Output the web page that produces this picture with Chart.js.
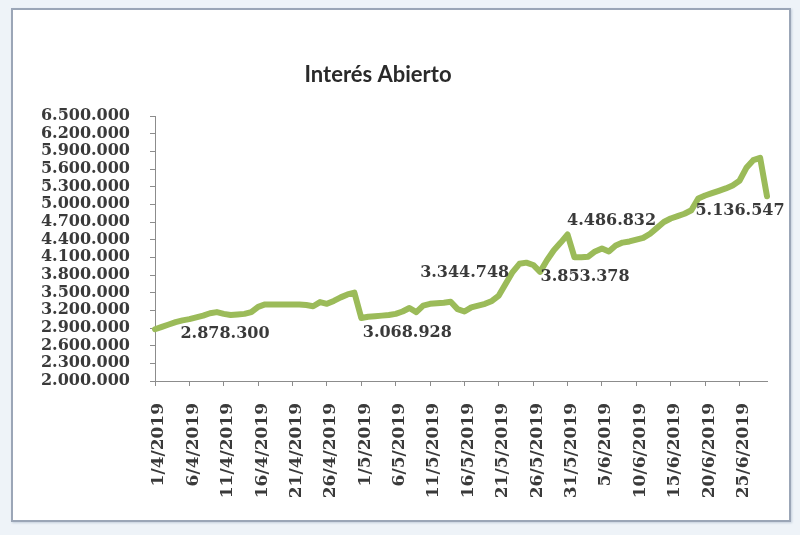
<!DOCTYPE html>
<html>
<head>
<meta charset="utf-8">
<script src="https://cdn.jsdelivr.net/npm/chart.js@4/dist/chart.umd.min.js"></script>
<style>
  html,body{margin:0;padding:0;background:#eef3f8;width:800px;height:535px;overflow:hidden;}
  #frame{position:absolute;left:11px;top:8px;width:776px;height:510px;background:#fff;border:2px solid #9ba6b7;box-shadow:1px 1px 2px #c5cfdc;}
  #c{position:absolute;left:0;top:0;}
</style>
</head>
<body>
<div id="frame"></div>
<canvas id="c" width="800" height="535"></canvas>
<script>
const chartTitle = "Interés Abierto";
const dates = [
 "1/4/2019","2/4/2019","3/4/2019","4/4/2019","5/4/2019","6/4/2019","7/4/2019","8/4/2019","9/4/2019","10/4/2019",
 "11/4/2019","12/4/2019","13/4/2019","14/4/2019","15/4/2019","16/4/2019","17/4/2019","18/4/2019","19/4/2019","20/4/2019",
 "21/4/2019","22/4/2019","23/4/2019","24/4/2019","25/4/2019","26/4/2019","27/4/2019","28/4/2019","29/4/2019","30/4/2019",
 "1/5/2019","2/5/2019","3/5/2019","4/5/2019","5/5/2019","6/5/2019","7/5/2019","8/5/2019","9/5/2019","10/5/2019",
 "11/5/2019","12/5/2019","13/5/2019","14/5/2019","15/5/2019","16/5/2019","17/5/2019","18/5/2019","19/5/2019","20/5/2019",
 "21/5/2019","22/5/2019","23/5/2019","24/5/2019","25/5/2019","26/5/2019","27/5/2019","28/5/2019","29/5/2019","30/5/2019",
 "31/5/2019","1/6/2019","2/6/2019","3/6/2019","4/6/2019","5/6/2019","6/6/2019","7/6/2019","8/6/2019","9/6/2019",
 "10/6/2019","11/6/2019","12/6/2019","13/6/2019","14/6/2019","15/6/2019","16/6/2019","17/6/2019","18/6/2019","19/6/2019",
 "20/6/2019","21/6/2019","22/6/2019","23/6/2019","24/6/2019","25/6/2019","26/6/2019","27/6/2019","28/6/2019","29/6/2019"
];
const openInterest = [
 2878300,2920000,2960000,3000000,3030000,3050000,3080000,3110000,3150000,3170000,
 3140000,3120000,3130000,3140000,3170000,3260000,3300000,3300000,3300000,3300000,
 3300000,3300000,3290000,3270000,3340000,3310000,3360000,3420000,3470000,3500000,
 3068928,3090000,3100000,3110000,3120000,3140000,3180000,3240000,3170000,3280000,
 3310000,3320000,3330000,3344748,3220000,3180000,3250000,3280000,3310000,3360000,
 3450000,3650000,3850000,3990000,4010000,3970000,3853378,4050000,4220000,4350000,
 4486832,4100000,4100000,4110000,4200000,4250000,4200000,4300000,4350000,4370000,
 4400000,4430000,4500000,4600000,4700000,4760000,4800000,4840000,4900000,5100000,
 5150000,5190000,5230000,5270000,5320000,5400000,5620000,5750000,5790000,5136547
];
const yMin = 2000000, yMax = 6500000, yStep = 300000;
const labelledPoints = [0, 30, 43, 56, 60, 89];
const labelOffsets = [[70,5],[46,15],[14,-29],[45,5],[44,-14],[-27,15]];

const fmt = v => Math.round(v).toString().replace(/\B(?=(\d{3})+(?!\d))/g, ".");
const textColor = "#3a3a3a";
const axisColor = "#8c8c8c";
const serif = "'DejaVu Serif', serif";

const titlePlugin = {
  id: "titleText",
  afterDraw(chart) {
    const ctx = chart.ctx;
    ctx.save();
    ctx.font = "bold 22px Lato, sans-serif";
    ctx.fillStyle = "#2a2a2a";
    ctx.textAlign = "center";
    ctx.textBaseline = "middle";
    ctx.fillText(chartTitle, 378, 75);
    ctx.restore();
  }
};

const dataLabelPlugin = {
  id: "dataLabels",
  afterDatasetsDraw(chart) {
    const ctx = chart.ctx;
    const meta = chart.getDatasetMeta(0);
    ctx.save();
    ctx.font = "bold 16px " + serif;
    ctx.fillStyle = textColor;
    ctx.textAlign = "center";
    ctx.textBaseline = "middle";
    labelledPoints.forEach((idx, k) => {
      const p = meta.data[idx];
      ctx.fillText(fmt(openInterest[idx]), p.x + labelOffsets[k][0], p.y + labelOffsets[k][1]);
    });
    ctx.restore();
  }
};

new Chart(document.getElementById("c"), {
  type: "line",
  data: {
    labels: dates,
    datasets: [{
      data: openInterest,
      borderColor: "#9bbb59",
      borderWidth: 6,
      pointRadius: 0,
      tension: 0,
      borderJoinStyle: "round",
      borderCapStyle: "round",
      fill: false
    }]
  },
  options: {
    responsive: false,
    animation: false,
    events: [],
    layout: { padding: { left: 0, right: 33, top: 116, bottom: 0 } },
    plugins: { legend: { display: false }, tooltip: { enabled: false }, title: { display: false } },
    scales: {
      x: {
        type: "category",
        offset: false,
        border: { display: true, color: axisColor, width: 1 },
        grid: {
          display: true,
          drawOnChartArea: false,
          drawTicks: true,
          tickLength: 5,
          color: ctx => (ctx.index % 5 === 0 ? axisColor : "rgba(0,0,0,0)")
        },
        ticks: {
          autoSkip: false,
          maxRotation: 90,
          minRotation: 90,
          padding: 17,
          labelOffset: 4,
          color: textColor,
          font: { family: serif, size: 17, weight: "bold" },
          callback: function (val, idx) { return idx % 5 === 0 ? dates[idx] : ""; }
        },
        afterFit: s => { s.height = 535 - 381; s.paddingRight = 0; s.paddingLeft = 0; }
      },
      y: {
        min: yMin,
        max: yMax,
        border: { display: true, color: axisColor, width: 1 },
        grid: { display: true, drawOnChartArea: false, drawTicks: true, tickLength: 5, color: axisColor },
        ticks: {
          autoSkip: false,
          stepSize: yStep,
          padding: 20,
          color: textColor,
          font: { family: serif, size: 16, weight: "bold" },
          callback: v => fmt(v)
        },
        afterFit: s => { s.width = 155; s.paddingTop = 0; s.paddingBottom = 0; }
      }
    }
  },
  plugins: [titlePlugin, dataLabelPlugin]
});
</script>
</body>
</html>
